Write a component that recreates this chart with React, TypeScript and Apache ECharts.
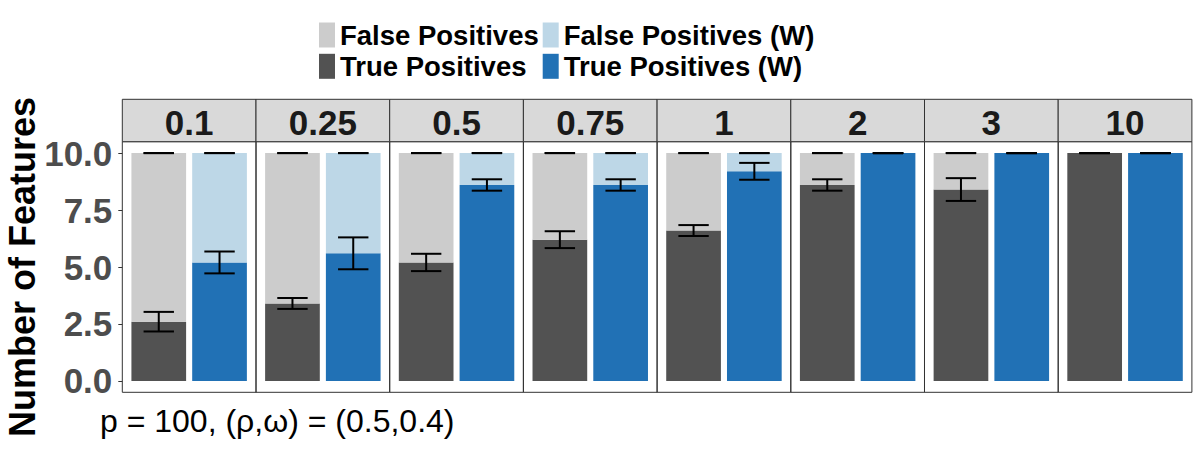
import React, { useEffect, useRef } from 'react';
import * as echarts from 'echarts';

// ---- data ----
const facetLabels = ['0.1', '0.25', '0.5', '0.75', '1', '2', '3', '10'];
const methods = ['Unweighted', 'Weighted'];
const totalFeatures = 10;
const tpUnweighted = [2.6, 3.4, 5.2, 6.2, 6.6, 8.6, 8.4, 10];
const sdUnweighted = [0.43, 0.24, 0.38, 0.37, 0.24, 0.25, 0.5, 0];
const tpWeighted = [5.2, 5.6, 8.6, 8.6, 9.2, 10, 10, 10];
const sdWeighted = [0.48, 0.7, 0.25, 0.25, 0.37, 0, 0, 0];
const yTicks = [0, 2.5, 5, 7.5, 10];
const nameFP = 'False Positives';
const nameTP = 'True Positives';
const nameFPW = 'False Positives (W)';
const nameTPW = 'True Positives (W)';
const caption = 'p = 100, (ρ,ω) = (0.5,0.4)';
const yTitle = 'Number of Features';

// ---- style / layout ----
const COLORS = { fp: '#CCCCCC', tp: '#525252', fpW: '#BDD7E7', tpW: '#2171B5' };
const FONT = 'Liberation Sans, Arial, sans-serif';
const PANEL_LEFT = 122.3;
const PANEL_W = 133.7;
const PANEL_TOP = 141.7;
const PANEL_H = 250.6;
const STRIP_TOP = 99.3;
const STRIP_H = 42.4;
// ggplot discrete expansion: 0.6 units each side of 2 categories -> 2.2 units
const BAND = PANEL_W / 2.2;
const GRID_INSET = 0.1 * BAND;

export default function App() {
  const ref = useRef<HTMLDivElement>(null);

  useEffect(() => {
    if (!ref.current) return;
    const chart = echarts.init(ref.current, undefined, { renderer: 'svg' });

    const grids: any[] = [];
    const xAxes: any[] = [];
    const yAxes: any[] = [];
    const series: any[] = [];
    const graphics: any[] = [];

    facetLabels.forEach((lab, i) => {
      const panelLeft = PANEL_LEFT + i * PANEL_W;
      grids.push({
        left: panelLeft + GRID_INSET,
        top: PANEL_TOP,
        width: 2 * BAND,
        height: PANEL_H,
        show: false,
      });
      xAxes.push({ type: 'category', gridIndex: i, data: methods, show: false, boundaryGap: true });
      if (i === 0) {
        yAxes.push({
          type: 'value',
          gridIndex: i,
          min: -0.5,
          max: 10.5,
          offset: GRID_INSET,
          name: yTitle,
          nameLocation: 'middle',
          nameRotate: 90,
          nameGap: 79,
          nameTextStyle: { fontSize: 36, fontWeight: 'bold', color: '#000', fontFamily: FONT },
          axisLine: { show: false },
          axisTick: { show: true, length: 4, customValues: yTicks, lineStyle: { color: '#333333', width: 1 } },
          axisLabel: {
            customValues: yTicks,
            formatter: (v: number) => v.toFixed(1),
            fontSize: 35,
            fontWeight: 'bold',
            color: '#4D4D4D',
            fontFamily: FONT,
            margin: 10,
          },
          splitLine: { show: false },
        });
      } else {
        yAxes.push({ type: 'value', gridIndex: i, min: -0.5, max: 10.5, show: false });
      }
      const common = {
        type: 'bar',
        xAxisIndex: i,
        yAxisIndex: i,
        stack: 'panel' + i,
        barWidth: '90%',
        silent: true,
      };
      series.push({ ...common, name: nameTP, itemStyle: { color: COLORS.tp }, data: [tpUnweighted[i], '-'] });
      series.push({ ...common, name: nameTPW, itemStyle: { color: COLORS.tpW }, data: ['-', tpWeighted[i]] });
      series.push({ ...common, name: nameFP, itemStyle: { color: COLORS.fp }, data: [totalFeatures - tpUnweighted[i], '-'] });
      series.push({ ...common, name: nameFPW, itemStyle: { color: COLORS.fpW }, data: ['-', totalFeatures - tpWeighted[i]] });
      series.push({
        type: 'custom',
        xAxisIndex: i,
        yAxisIndex: i,
        z: 10,
        silent: true,
        encode: { x: 0, y: [1, 2] },
        data: [
          [0, tpUnweighted[i] - sdUnweighted[i], tpUnweighted[i] + sdUnweighted[i]],
          [1, tpWeighted[i] - sdWeighted[i], tpWeighted[i] + sdWeighted[i]],
          [0, totalFeatures, totalFeatures],
          [1, totalFeatures, totalFeatures],
        ],
        renderItem: (params: any, api: any) => {
          const x = api.value(0);
          const lo = api.value(1);
          const hi = api.value(2);
          const pLo = api.coord([x, lo]);
          const pHi = api.coord([x, hi]);
          const half = api.size([1, 0])[0] * 0.25;
          const style = { stroke: '#000000', lineWidth: 2, fill: null };
          return {
            type: 'group',
            children: [
              { type: 'line', shape: { x1: pHi[0] - half, y1: pHi[1], x2: pHi[0] + half, y2: pHi[1] }, style },
              { type: 'line', shape: { x1: pLo[0] - half, y1: pLo[1], x2: pLo[0] + half, y2: pLo[1] }, style },
              { type: 'line', shape: { x1: pLo[0], y1: pLo[1], x2: pHi[0], y2: pHi[1] }, style },
            ],
          };
        },
      });

      // panel border
      graphics.push({
        type: 'rect',
        shape: { x: panelLeft, y: PANEL_TOP, width: PANEL_W, height: PANEL_H },
        style: { fill: null, stroke: '#333333', lineWidth: 1 },
        silent: true,
        z: 0,
      });
      // strip
      graphics.push({
        type: 'rect',
        shape: { x: panelLeft, y: STRIP_TOP, width: PANEL_W, height: STRIP_H },
        style: { fill: '#D9D9D9', stroke: '#333333', lineWidth: 1 },
        silent: true,
      });
      graphics.push({
        type: 'text',
        x: panelLeft + PANEL_W / 2,
        y: STRIP_TOP + STRIP_H / 2 + 1.5,
        style: {
          text: lab,
          fontSize: 35,
          fontWeight: 'bold',
          fontFamily: FONT,
          fill: '#1A1A1A',
          align: 'center',
          verticalAlign: 'middle',
        },
        silent: true,
      });
    });

    graphics.push({
      type: 'text',
      x: 100,
      y: 421,
      style: {
        text: caption,
        fontSize: 32,
        fontFamily: FONT,
        fill: '#000000',
        align: 'left',
        verticalAlign: 'middle',
      },
      silent: true,
    });

    const legendText = {
      fontSize: 27.5,
      fontWeight: 'bold',
      color: '#000000',
      fontFamily: FONT,
      lineHeight: 25,
    };
    const legendBase = {
      top: 21,
      orient: 'vertical',
      padding: 0,
      itemWidth: 16,
      itemHeight: 25,
      itemGap: 3.3,
      icon: 'rect',
      selectedMode: false,
      textStyle: legendText,
    };

    chart.setOption({
      animation: false,
      textStyle: { fontFamily: FONT },
      grid: grids,
      xAxis: xAxes,
      yAxis: yAxes,
      series,
      graphic: graphics,
      legend: [
        { ...legendBase, left: 319, data: [nameFP, nameTP] },
        { ...legendBase, left: 542.7, data: [nameFPW, nameTPW] },
      ],
    });

    return () => chart.dispose();
  }, []);

  return (
    <div
      ref={ref}
      style={{ position: 'fixed', left: 0, top: 0, width: 1200, height: 450, background: '#ffffff' }}
    />
  );
}
